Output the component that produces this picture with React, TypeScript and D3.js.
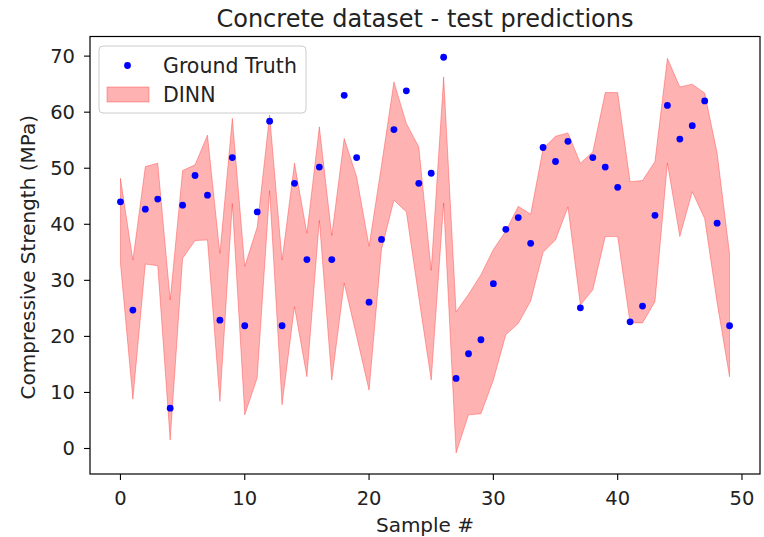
import React from 'react';
import * as d3 from 'd3';

// ground truth, one value per test sample (index = sample #)
const groundTruth = [
  44.0, 24.7, 42.7, 44.5, 7.2, 43.4, 48.7, 45.2, 22.9, 51.9,
  21.9, 42.2, 58.4, 21.9, 47.3, 33.7, 50.2, 33.7, 63.0, 51.9,
  26.1, 37.3, 56.9, 63.8, 47.3, 49.1, 69.8, 12.5, 16.9, 19.4,
  29.4, 39.1, 41.2, 36.6, 53.7, 51.2, 54.8, 25.1, 51.9, 50.2,
  46.6, 22.6, 25.4, 41.6, 61.2, 55.2, 57.6, 62.0, 40.2, 21.9,
];

// DINN prediction interval
const dinnUpper = [
  48.2, 33.6, 50.3, 50.9, 26.5, 49.6, 50.6, 55.9, 34.8, 58.9,
  32.5, 39.5, 59.5, 33.6, 50.9, 38.4, 57.4, 38.0, 55.3, 48.5,
  36.1, 50.5, 65.4, 58.0, 53.8, 31.8, 66.3, 24.4, 27.5, 31.0,
  35.5, 38.8, 43.2, 41.8, 53.5, 55.7, 56.3, 50.9, 52.9, 63.5,
  63.5, 47.6, 47.8, 51.2, 69.6, 64.5, 65.0, 63.4, 52.7, 34.8,
];
const dinnLower = [
  33.0, 8.8, 32.9, 32.6, 1.5, 33.9, 37.1, 37.2, 8.4, 43.7,
  6.0, 12.6, 46.0, 7.8, 25.3, 12.8, 40.7, 12.2, 29.5, 20.0,
  10.4, 35.5, 44.3, 42.2, 27.0, 12.2, 43.8, -0.8, 6.0, 6.2,
  12.2, 20.3, 22.3, 26.3, 35.0, 37.2, 43.1, 25.6, 28.3, 37.8,
  37.8, 22.4, 22.4, 26.2, 50.9, 37.8, 45.8, 41.0, 26.0, 12.8,
];

const xTicks = [0, 10, 20, 30, 40, 50];
const yTicks = [0, 10, 20, 30, 40, 50, 60, 70];

const W = 764;
const H = 537;
const plot = { left: 90, right: 760, top: 36.5, bottom: 474 };
const font = 'DejaVu Sans, sans-serif';
const textColor = '#222';
const bandColor = 'rgba(255,0,0,0.3)';
const tickSize = 19.5;
const labelSize = 20;

export default function App() {
  const x = d3.scaleLinear().domain([-2.45, 51.45]).range([plot.left, plot.right]);
  const y = d3.scaleLinear().domain([-4.55, 73.5]).range([plot.bottom, plot.top]);

  const band = d3
    .area<number>()
    .x((_, i) => x(i))
    .y0((_, i) => y(dinnLower[i]))
    .y1((d) => y(d));

  return (
    <svg
      width={W}
      height={H}
      style={{ position: 'absolute', left: 0, top: 0, background: '#fff' }}
      fontFamily={font}
    >
      <rect x={0} y={0} width={W} height={H} fill="#fff" />

      {/* title */}
      <text x={(plot.left + plot.right) / 2} y={27} textAnchor="middle" fontSize={24} fill={textColor}>
        Concrete dataset - test predictions
      </text>

      {/* DINN band */}
      <path d={band(dinnUpper) || ''} fill={bandColor} stroke={bandColor} strokeWidth={1} />

      {/* ground truth points */}
      {groundTruth.map((v, i) => (
        <circle key={i} cx={x(i)} cy={y(v)} r={3.4} fill="#0000ff" />
      ))}

      {/* frame */}
      <rect
        x={plot.left}
        y={plot.top}
        width={plot.right - plot.left}
        height={plot.bottom - plot.top}
        fill="none"
        stroke="#000"
        strokeWidth={1.2}
      />

      {/* x axis */}
      {xTicks.map((t) => (
        <g key={t} transform={`translate(${x(t)},${plot.bottom})`}>
          <line y2={6} stroke="#000" strokeWidth={1.1} />
          <text y={31} textAnchor="middle" fontSize={tickSize} fill={textColor}>
            {t}
          </text>
        </g>
      ))}
      <text x={(plot.left + plot.right) / 2} y={532} textAnchor="middle" fontSize={labelSize} fill={textColor}>
        Sample #
      </text>

      {/* y axis */}
      {yTicks.map((t) => (
        <g key={t} transform={`translate(${plot.left},${y(t)})`}>
          <line x2={-6} stroke="#000" strokeWidth={1.1} />
          <text x={-15} dy="0.35em" textAnchor="end" fontSize={tickSize} fill={textColor}>
            {t}
          </text>
        </g>
      ))}
      <text
        transform={`translate(35,${(plot.top + plot.bottom) / 2 + 2}) rotate(-90)`}
        textAnchor="middle"
        fontSize={labelSize}
        fill={textColor}
      >
        Compressive Strength (MPa)
      </text>

      {/* legend */}
      <g>
        <rect x={99} y={46} width={207} height={67} rx={4} fill="rgba(255,255,255,0.8)" stroke="#ccc" strokeWidth={1} />
        <circle cx={127.5} cy={65.5} r={3.4} fill="#0000ff" />
        <text x={163} y={65.5} dy="0.35em" fontSize={20.5} fill={textColor}>
          Ground Truth
        </text>
        <rect x={107} y={87} width={42} height={15} fill={bandColor} stroke={bandColor} strokeWidth={1} />
        <text x={163} y={94.5} dy="0.35em" fontSize={20.5} fill={textColor}>
          DINN
        </text>
      </g>
    </svg>
  );
}
